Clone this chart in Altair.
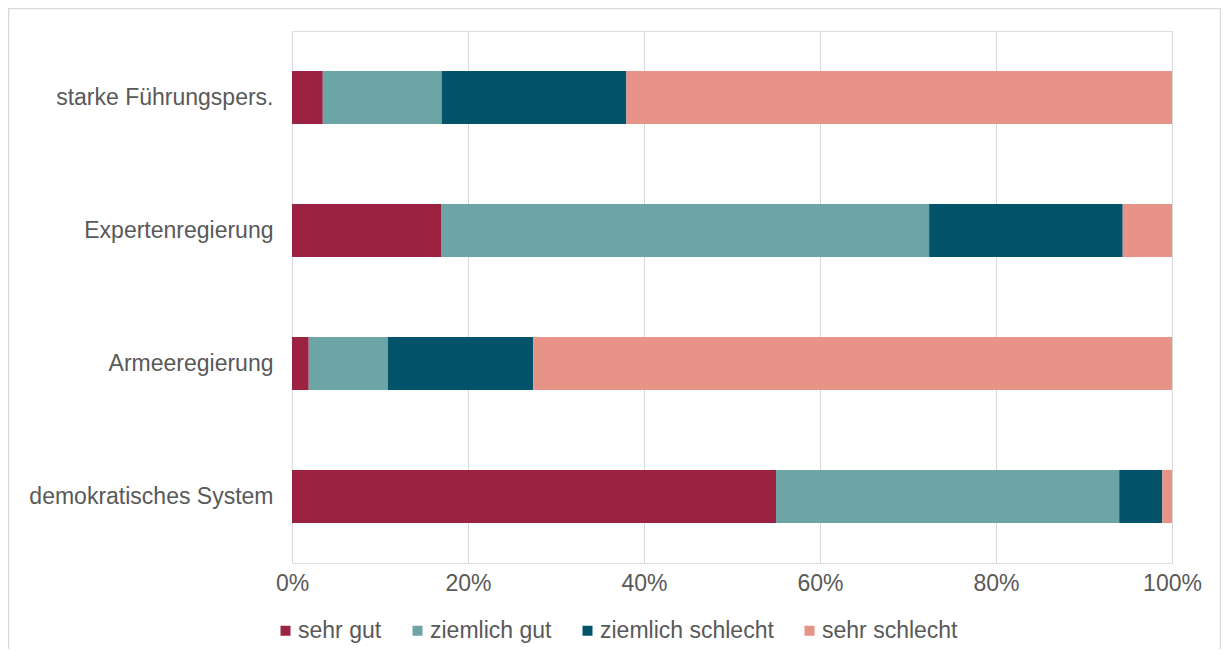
import altair as alt
import pandas as pd

categories = ["starke Führungspers.", "Expertenregierung", "Armeeregierung", "demokratisches System"]
series = ["sehr gut", "ziemlich gut", "ziemlich schlecht", "sehr schlecht"]
colors = ["#9B2240", "#6DA5A7", "#03546A", "#E89388"]
sehr_gut = [3.5, 17.0, 1.9, 55.0]
ziemlich_gut = [13.5, 55.4, 9.0, 39.0]
ziemlich_schlecht = [21.0, 22.0, 16.5, 4.9]
sehr_schlecht = [62.0, 5.6, 72.6, 1.1]
x_ticks = [0, 0.2, 0.4, 0.6, 0.8, 1.0]

rows = []
for s_i, (name, vals) in enumerate(zip(series, [sehr_gut, ziemlich_gut, ziemlich_schlecht, sehr_schlecht])):
    for c, v in zip(categories, vals):
        rows.append({"Kategorie": c, "Bewertung": name, "Anteil": v / 100.0, "ord": s_i})
df = pd.DataFrame(rows)

FONT = "Liberation Sans"
GREY = "#595959"
GRID = "#D9D9D9"
W, H = 880, 532
FS = 23

bars = alt.Chart(df).mark_bar().encode(
    x=alt.X("Anteil:Q", stack="normalize",
            scale=alt.Scale(domain=[0, 1], nice=False),
            axis=alt.Axis(format=".0%", values=x_ticks, title=None, grid=True, gridColor=GRID,
                          gridWidth=1, domain=False, ticks=False, labelPadding=9,
                          labelFlush=False,
                          labelFontSize=FS, labelColor=GREY, labelFont=FONT)),
    y=alt.Y("Kategorie:N", sort=categories,
            scale=alt.Scale(paddingInner=0.6, paddingOuter=0.3),
            axis=alt.Axis(title=None, domain=False, ticks=False, grid=False, labelPadding=19,
                          labelFontSize=FS, labelColor=GREY, labelFont=FONT, labelLimit=400)),
    color=alt.Color("Bewertung:N", sort=series,
                    scale=alt.Scale(domain=series, range=colors),
                    legend=alt.Legend(title=None, orient="none", direction="horizontal",
                                      legendX=-18, legendY=588, symbolType="square",
                                      symbolSize=100, symbolStrokeWidth=0, labelFontSize=FS,
                                      labelColor=GREY, labelFont=FONT, labelOffset=1,
                                      columnPadding=24, padding=0, labelLimit=400)),
    order=alt.Order("ord:Q", sort="ascending"),
)

frame = alt.Chart(pd.DataFrame({"a": [0]})).mark_rect(
    fill=None, stroke=GRID, strokeWidth=1.5
).encode(
    x=alt.value(-283.5), x2=alt.value(928.5), y=alt.value(-22.5), y2=alt.value(700)
)

chart = alt.layer(frame, bars).properties(
    width=W, height=H,
    autosize=alt.AutoSizeParams(type="none"),
    padding={"left": 284, "top": 23, "right": 49, "bottom": 86},
).configure_view(stroke=None).configure(background="white")

chart.save("out.html", embed_options={"renderer": "svg", "actions": False})
